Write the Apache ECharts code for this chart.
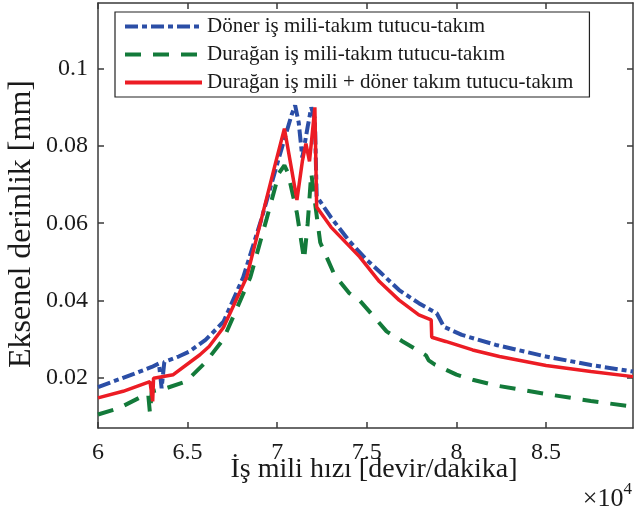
<!DOCTYPE html>
<html>
<head>
<meta charset="utf-8">
<script src="https://cdn.jsdelivr.net/npm/echarts@6/dist/echarts.min.js"></script>
<style>
  html, body { margin: 0; padding: 0; background: #fff; }
  #chart { width: 635px; height: 514px; }
</style>
</head>
<body>
<div id="chart"></div>
<script>
// Spindle speed (x 10^4 rpm) vs. axial depth of cut (mm)
const seriesNames = [
  'Döner iş mili-takım tutucu-takım',
  'Durağan iş mili-takım tutucu-takım',
  'Durağan iş mili + döner takım tutucu-takım'
];

// Rotating spindle - holder - tool
const rotatingX = [6.00, 6.10, 6.20, 6.30, 6.34, 6.355, 6.37, 6.45, 6.51, 6.60, 6.70, 6.81, 6.91, 7.01, 7.08, 7.10, 7.12, 7.14, 7.17, 7.19, 7.21, 7.22, 7.30, 7.40, 7.50, 7.57, 7.68, 7.79, 7.89, 7.93, 8.03, 8.22, 8.50, 8.75, 8.985];
const rotatingY = [0.0176, 0.0193, 0.0210, 0.0228, 0.0237, 0.0173, 0.0241, 0.0255, 0.0268, 0.0298, 0.0345, 0.0460, 0.0608, 0.0770, 0.0880, 0.0905, 0.0860, 0.0770, 0.0850, 0.0900, 0.0870, 0.0670, 0.0615, 0.0555, 0.0505, 0.0475, 0.0427, 0.0393, 0.0367, 0.0332, 0.0311, 0.0285, 0.0255, 0.0233, 0.0216];

// Stationary spindle - holder - tool
const stationaryX = [6.00, 6.12, 6.23, 6.28, 6.29, 6.30, 6.38, 6.49, 6.60, 6.70, 6.85, 6.94, 7.01, 7.04, 7.06, 7.11, 7.15, 7.17, 7.19, 7.22, 7.24, 7.32, 7.40, 7.46, 7.50, 7.61, 7.70, 7.83, 7.845, 7.88, 8.00, 8.09, 8.22, 8.50, 8.75, 8.985];
const stationaryY = [0.0105, 0.0122, 0.0148, 0.0158, 0.0108, 0.0165, 0.0173, 0.0190, 0.0240, 0.0300, 0.0460, 0.0610, 0.0730, 0.0750, 0.0730, 0.0626, 0.0505, 0.0600, 0.0730, 0.0620, 0.0550, 0.0466, 0.0420, 0.0400, 0.0379, 0.0320, 0.0294, 0.0258, 0.0245, 0.0234, 0.0208, 0.0195, 0.0180, 0.0158, 0.0140, 0.0125];

// Stationary spindle + rotating holder - tool
const combinedX = [6.00, 6.14, 6.29, 6.305, 6.31, 6.42, 6.567, 6.62, 6.70, 6.83, 6.92, 6.99, 7.04, 7.08, 7.11, 7.14, 7.16, 7.18, 7.21, 7.22, 7.30, 7.46, 7.57, 7.68, 7.79, 7.859, 7.862, 7.94, 8.09, 8.24, 8.50, 8.75, 8.985];
const combinedY = [0.0148, 0.0165, 0.0190, 0.0139, 0.0199, 0.0208, 0.0259, 0.0281, 0.0330, 0.0461, 0.0626, 0.0755, 0.0845, 0.0740, 0.0660, 0.0760, 0.0806, 0.0760, 0.0900, 0.0642, 0.0590, 0.0513, 0.0449, 0.0401, 0.0363, 0.0350, 0.0305, 0.0294, 0.0272, 0.0255, 0.0232, 0.0216, 0.0203];

const xTicks = [6, 6.5, 7, 7.5, 8, 8.5];
const xTickLabels = ['6', '6.5', '7', '7.5', '8', '8.5'];
const yTicks = [0.02, 0.04, 0.06, 0.08, 0.1];
const yTickLabels = ['0.02', '0.04', '0.06', '0.08', '0.1'];

const pairs = (xs, ys) => xs.map((x, i) => [x, ys[i]]);
const FONT = 'Liberation Serif';
const frame = '#3a3a3a';

function xAxisDef(position, showLabels) {
  return {
    type: 'value', position: position, min: 6, max: 8.985,
    axisLine: { show: true, onZero: false, lineStyle: { color: frame, width: 1.5 } },
    axisTick: { show: true, inside: true, length: 6, customValues: xTicks, lineStyle: { color: frame, width: 1.5 } },
    axisLabel: {
      show: showLabels, customValues: xTicks, margin: 13,
      formatter: v => xTickLabels[xTicks.indexOf(v)] ?? '',
      fontFamily: FONT, fontSize: 24, color: '#1a1a1a'
    },
    splitLine: { show: false }
  };
}
function yAxisDef(position, showLabels) {
  return {
    type: 'value', position: position, min: 0.007, max: 0.117,
    axisLine: { show: true, onZero: false, lineStyle: { color: frame, width: 1.5 } },
    axisTick: { show: true, inside: true, length: 6, customValues: yTicks, lineStyle: { color: frame, width: 1.5 } },
    axisLabel: {
      show: showLabels, customValues: yTicks, margin: 10,
      formatter: v => yTickLabels[yTicks.findIndex(t => Math.abs(t - v) < 1e-9)] ?? '',
      fontFamily: FONT, fontSize: 24, color: '#1a1a1a'
    },
    splitLine: { show: false }
  };
}

const chart = echarts.init(document.getElementById('chart'), null, { renderer: 'canvas' });
chart.setOption({
  animation: false,
  backgroundColor: '#ffffff',
  grid: { left: 98, right: 2, top: 3, bottom: 86, containLabel: false },
  xAxis: [xAxisDef('bottom', true), xAxisDef('top', false)],
  yAxis: [yAxisDef('left', true), yAxisDef('right', false)],
  legend: {
    orient: 'vertical', left: 115, top: 12,
    padding: [4, 16, 4, 8],
    itemWidth: 77, itemHeight: 20, itemGap: 7,
    backgroundColor: '#ffffff',
    borderColor: '#222', borderWidth: 1.2,
    itemStyle: { opacity: 0 },
    lineStyle: { width: 4 },
    textStyle: { fontFamily: FONT, fontSize: 21, color: '#1a1a1a' },
    data: seriesNames
  },
  series: [
    {
      name: seriesNames[0], type: 'line', showSymbol: false, symbol: 'none',
      data: pairs(rotatingX, rotatingY),
      lineStyle: { color: '#2b4ea6', width: 4, type: [13, 4, 5, 4] },
      itemStyle: { color: '#2b4ea6' }
    },
    {
      name: seriesNames[1], type: 'line', showSymbol: false, symbol: 'none',
      data: pairs(stationaryX, stationaryY),
      lineStyle: { color: '#137a3a', width: 4, type: [16, 12] },
      itemStyle: { color: '#137a3a' }
    },
    {
      name: seriesNames[2], type: 'line', showSymbol: false, symbol: 'none',
      data: pairs(combinedX, combinedY),
      lineStyle: { color: '#ec1c24', width: 3.5, type: 'solid' },
      itemStyle: { color: '#ec1c24' }
    }
  ],
  graphic: [
    {
      type: 'text', z: 10,
      style: {
        x: 374, y: 470, text: 'İş mili hızı [devir/dakika]', font: '28px "Liberation Serif"', fill: '#1a1a1a',
        align: 'center', verticalAlign: 'middle'
      }
    },
    {
      type: 'text', z: 10,
      style: {
        x: 0, y: 0, text: 'Eksenel derinlik [mm]', font: '32px "Liberation Serif"', fill: '#1a1a1a',
        align: 'center', verticalAlign: 'middle'
      },
      x: 22, y: 224, rotation: Math.PI / 2
    },
    {
      type: 'text', z: 10, right: 3, top: 481,
      style: {
        text: '{b|×10}{s|4}', fill: '#1a1a1a',
        rich: {
          b: { fontFamily: FONT, fontSize: 26, color: '#1a1a1a', verticalAlign: 'bottom' },
          s: { fontFamily: FONT, fontSize: 17, color: '#1a1a1a', verticalAlign: 'top', padding: [0, 0, 14, 0] }
        }
      }
    }
  ]
});
</script>
</body>
</html>
